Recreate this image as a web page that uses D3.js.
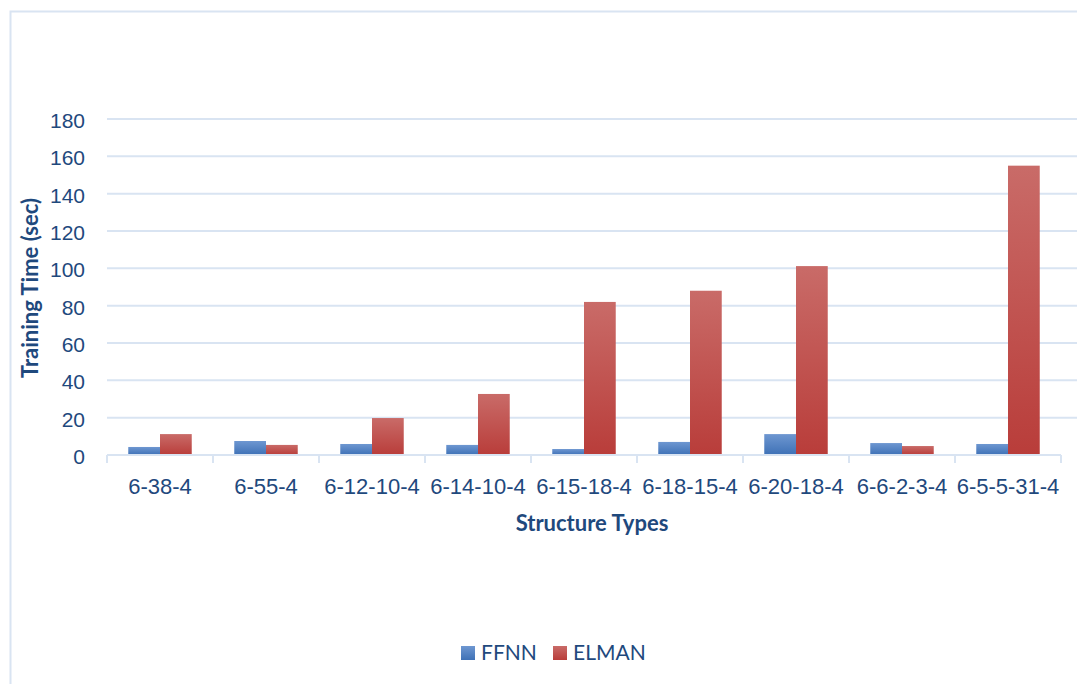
<!DOCTYPE html>
<html>
<head>
<meta charset="utf-8">
<script src="https://cdn.jsdelivr.net/npm/d3@7"></script>
<style>
  html, body { margin: 0; padding: 0; background: #ffffff; }
  svg { display: block; font-family: Lato, "Open Sans", sans-serif; }
</style>
</head>
<body>
<svg id="chart" width="1077" height="684"></svg>
<script>
// Network structures compared
const categories = ["6-38-4", "6-55-4", "6-12-10-4", "6-14-10-4", "6-15-18-4",
                    "6-18-15-4", "6-20-18-4", "6-6-2-3-4", "6-5-5-31-4"];
// Training time in seconds
const ffnnValues  = [4.3, 7.5, 5.9, 5.4, 3.2, 7.0, 11.2, 6.4, 5.9];
const elmanValues = [11.2, 5.4, 19.8, 32.7, 82, 88, 101.2, 4.8, 155];
const seriesNames = ["FFNN", "ELMAN"];
const yTicks = [0, 20, 40, 60, 80, 100, 120, 140, 160, 180];

const svg = d3.select("#chart");
const textColor = "#1F497D";
const gridColor = "#D9E4F2";

// outer frame
svg.append("rect")
  .attr("x", 10.5).attr("y", 11.5)
  .attr("width", 1100).attr("height", 700)
  .attr("fill", "none").attr("stroke", gridColor).attr("stroke-width", 2);

const plot = { left: 107, right: 1061, top: 119, bottom: 455 };

const x = d3.scaleBand().domain(categories)
  .range([plot.left, plot.right]).paddingInner(0).paddingOuter(0);
const xSub = d3.scaleBand().domain(seriesNames)
  .range([0, x.bandwidth()]).paddingInner(0).paddingOuter(0.67);
const y = d3.scaleLinear().domain([0, 180]).range([plot.bottom, plot.top]);

// gradients for bars
const defs = svg.append("defs");
const grads = {
  FFNN: ["#6E97D1", "#3E71B6"],
  ELMAN: ["#C96B68", "#B93D3A"]
};
Object.entries(grads).forEach(([name, [top, bottom]]) => {
  const g = defs.append("linearGradient").attr("id", "grad-" + name)
    .attr("x1", 0).attr("y1", 0).attr("x2", 0).attr("y2", 1);
  g.append("stop").attr("offset", "0%").attr("stop-color", top);
  g.append("stop").attr("offset", "100%").attr("stop-color", bottom);
});

// horizontal gridlines
svg.append("g")
  .selectAll("line")
  .data(yTicks.filter(d => d > 0))
  .join("line")
  .attr("x1", plot.left).attr("x2", 1077)
  .attr("y1", d => y(d)).attr("y2", d => y(d))
  .attr("stroke", gridColor).attr("stroke-width", 2);

// y axis labels
const yAxis = d3.axisLeft(y).tickValues(yTicks).tickSize(0).tickPadding(22);
svg.append("g")
  .attr("transform", `translate(${plot.left},0)`)
  .call(yAxis)
  .call(g => g.select(".domain").remove())
  .call(g => g.selectAll("text")
    .attr("fill", textColor).attr("font-size", 21).attr("dy", "0.4em"));

// bars
const data = categories.map((c, i) => ({ cat: c, FFNN: ffnnValues[i], ELMAN: elmanValues[i] }));
const groups = svg.append("g").selectAll("g")
  .data(data).join("g")
  .attr("transform", d => `translate(${x(d.cat)},0)`);
groups.selectAll("rect")
  .data(d => seriesNames.map(k => ({ key: k, value: d[k] })))
  .join("rect")
  .attr("x", d => xSub(d.key))
  .attr("width", xSub.bandwidth())
  .attr("y", d => y(d.value))
  .attr("height", d => y(0) - y(d.value))
  .attr("fill", d => `url(#grad-${d.key})`);

// x axis with tick marks at category boundaries
const xAxisG = svg.append("g").attr("transform", `translate(0,${plot.bottom})`);
xAxisG.append("line")
  .attr("x1", plot.left).attr("x2", plot.right)
  .attr("y1", 0).attr("y2", 0)
  .attr("stroke", gridColor).attr("stroke-width", 2);
const boundaries = categories.map(c => x(c)).concat([x(categories[categories.length - 1]) + x.bandwidth()]);
xAxisG.selectAll("line.tick")
  .data(boundaries).join("line").attr("class", "tick")
  .attr("x1", d => d).attr("x2", d => d)
  .attr("y1", 0).attr("y2", 8)
  .attr("stroke", gridColor).attr("stroke-width", 2);
const xAxis = d3.axisBottom(x).tickSize(0).tickPadding(23);
const xLabels = svg.append("g").attr("transform", `translate(0,${plot.bottom})`).call(xAxis);
xLabels.select(".domain").remove();
xLabels.selectAll("text").attr("fill", textColor).attr("font-size", 22);

// axis titles
svg.append("text")
  .attr("x", 592).attr("y", 531)
  .attr("text-anchor", "middle")
  .attr("font-size", 22).attr("font-weight", "bold").attr("fill", textColor)
  .text("Structure Types");
svg.append("text")
  .attr("transform", "translate(38,288) rotate(-90)")
  .attr("text-anchor", "middle")
  .attr("font-size", 22).attr("font-weight", "bold").attr("fill", textColor)
  .text("Training Time (sec)");

// legend
const legendItems = [
  { key: "FFNN", x: 461 },
  { key: "ELMAN", x: 553 }
];
const legend = svg.append("g").selectAll("g")
  .data(legendItems).join("g")
  .attr("transform", d => `translate(${d.x},646)`);
legend.append("rect")
  .attr("width", 14).attr("height", 14)
  .attr("fill", d => `url(#grad-${d.key})`);
legend.append("text")
  .attr("x", 20).attr("y", 14)
  .attr("font-size", 21).attr("fill", textColor)
  .text(d => d.key);
</script>
</body>
</html>
